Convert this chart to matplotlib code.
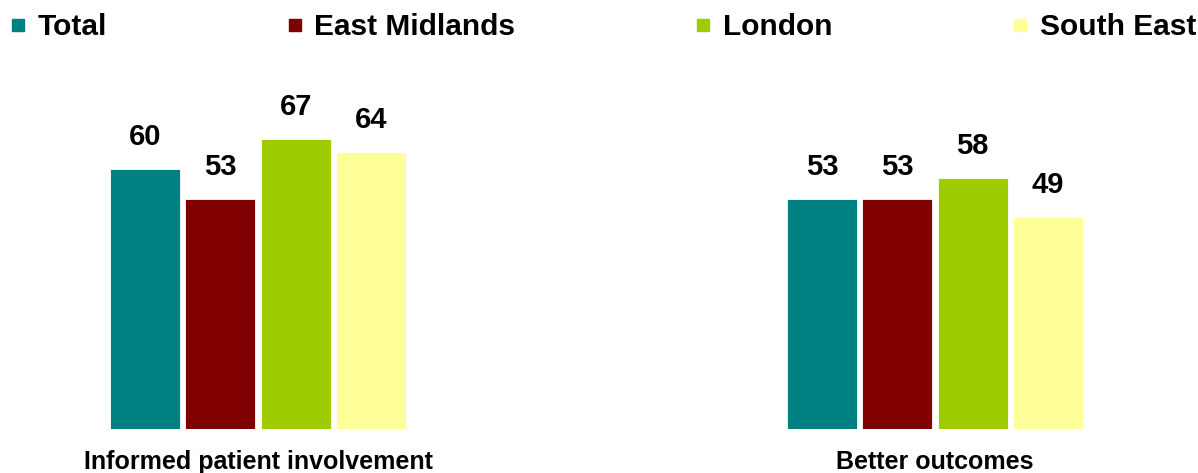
import matplotlib
matplotlib.use("Agg")
import matplotlib.pyplot as plt
from matplotlib.lines import Line2D
import numpy as np

plt.rcParams['font.family'] = ['Liberation Sans', 'DejaVu Sans']

categories = ["Informed patient involvement", "Better outcomes"]
series = ["Total", "East Midlands", "London", "South East"]
values = {
    "Total": [60, 53],
    "East Midlands": [53, 53],
    "London": [67, 58],
    "South East": [64, 49],
}
colors = ["#008080", "#800000", "#9ECC00", "#FFFF99"]

W, H = 1198, 473
fig = plt.figure(figsize=(W / 100, H / 100), dpi=100)
base_px = 429
top_px = 80
ax = fig.add_axes([0, (H - base_px) / H, 1, (base_px - top_px) / H])

x = np.arange(len(categories))
pitch = 75.3 / 677
width = 70 / 677
offsets = (np.arange(len(series)) - (len(series) - 1) / 2) * pitch

for i, (name, col) in enumerate(zip(series, colors)):
    bars = ax.bar(x + offsets[i], values[name], width=width, color=col,
                  edgecolor="white", linewidth=0.6, label=name)
    ax.bar_label(bars, labels=[str(v) for v in values[name]], padding=13,
                 fontsize=21, fontweight="bold", color="black")

ax.set_xlim(-258 / 677, (W - 258) / 677)
ax.set_ylim(0, (base_px - top_px) / 4.333)
ax.set_xticks(x)
ax.set_xticklabels(categories, fontsize=18, fontweight="bold")
ax.tick_params(axis="x", length=0, pad=15)
ax.set_yticks([])
for s in ax.spines.values():
    s.set_visible(False)
ax.patch.set_alpha(0)

handles = [Line2D([0], [0], marker="s", linestyle="none", markersize=8.5,
                  markerfacecolor=c, markeredgecolor=c) for c in colors]
fig.legend(handles, series, loc="center left",
           bbox_to_anchor=(9 / W, 1 - 27 / H), ncol=4, frameon=False,
           prop={"size": 21.5, "weight": "bold"}, handlelength=0.6,
           handletextpad=0.35, columnspacing=6.0, borderpad=0,
           borderaxespad=0)

fig.savefig("out.png", dpi=100)
